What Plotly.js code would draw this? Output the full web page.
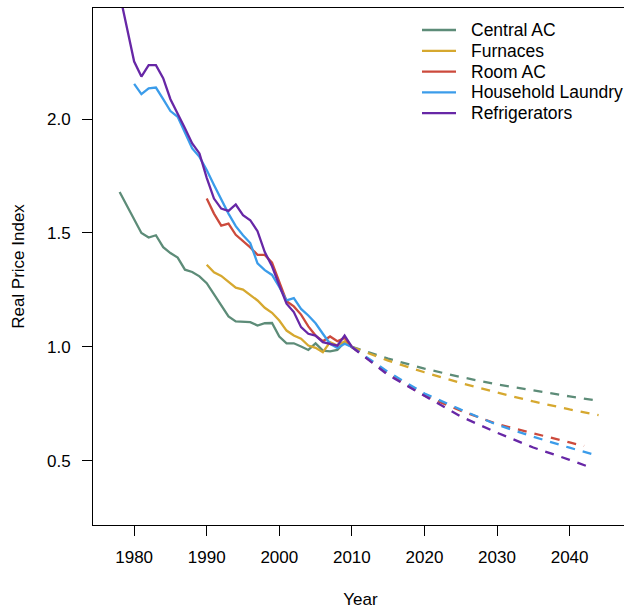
<!DOCTYPE html>
<html>
<head>
<meta charset="utf-8">
<script src="https://cdn.plot.ly/plotly-3.0.1.min.js"></script>
<style>
html,body{margin:0;padding:0;overflow:hidden;background:#fff;}
#chart{width:628px;height:609px;}
</style>
</head>
<body>
<div id="chart"></div>
<script>
// ---- Historical data (solid lines) ----
const centralYears = [1978,1979,1980,1981,1982,1983,1984,1985,1986,1987,1988,1989,1990,1991,1992,1993,1994,1995,1996,1997,1998,1999,2000,2001,2002,2003,2004,2005,2006,2007,2008,2009,2010];
const centralVals  = [1.680,1.622,1.559,1.500,1.480,1.490,1.438,1.412,1.392,1.339,1.329,1.310,1.280,1.230,1.178,1.134,1.112,1.112,1.109,1.094,1.104,1.105,1.046,1.016,1.016,1.002,0.987,1.016,0.984,0.981,0.987,1.021,1.000];

const furnaceYears = [1990,1991,1992,1993,1994,1995,1996,1997,1998,1999,2000,2001,2002,2003,2004,2005,2006,2007,2008,2009,2010];
const furnaceVals  = [1.361,1.328,1.312,1.287,1.260,1.252,1.228,1.204,1.172,1.150,1.116,1.072,1.050,1.036,1.006,0.996,0.977,1.021,1.006,1.025,1.000];

const roomYears = [1990,1991,1992,1993,1994,1995,1996,1997,1998,1999,2000,2001,2002,2003,2004,2005,2006,2007,2008,2009,2010];
const roomVals  = [1.651,1.585,1.532,1.541,1.492,1.466,1.437,1.404,1.404,1.370,1.284,1.201,1.178,1.142,1.090,1.050,1.025,1.046,1.025,1.040,1.000];

const laundryYears = [1980,1981,1982,1983,1984,1985,1986,1987,1988,1989,1990,1991,1992,1993,1994,1995,1996,1997,1998,1999,2000,2001,2002,2003,2004,2005,2006,2007,2008,2009,2010];
const laundryVals  = [2.154,2.109,2.135,2.138,2.087,2.035,2.010,1.944,1.871,1.834,1.776,1.710,1.644,1.585,1.530,1.490,1.456,1.367,1.337,1.316,1.263,1.204,1.214,1.167,1.138,1.104,1.058,1.014,0.996,1.014,1.000];

const fridgeYears = [1978,1979,1980,1981,1982,1983,1984,1985,1986,1987,1988,1989,1990,1991,1992,1993,1994,1995,1996,1997,1998,1999,2000,2001,2002,2003,2004,2005,2006,2007,2008,2009,2010];
const fridgeVals  = [2.550,2.399,2.252,2.186,2.236,2.236,2.179,2.087,2.025,1.959,1.893,1.849,1.742,1.651,1.607,1.597,1.625,1.578,1.556,1.508,1.416,1.354,1.270,1.190,1.153,1.087,1.058,1.050,1.021,1.014,1.006,1.050,1.000];

// ---- Projections (dashed lines) ----
const projYears     = [2010,2015,2020,2025,2030,2035,2040,2044];
const centralProj   = [1.000,0.949,0.905,0.868,0.836,0.809,0.783,0.764];
const furnaceProj   = [1.000,0.940,0.889,0.842,0.800,0.761,0.726,0.701];
const laundryProj   = [1.000,0.890,0.796,0.725,0.659,0.606,0.558,0.522];
const roomProjYears = [2010,2015,2020,2025,2030,2035,2040,2042];
const roomProj      = [1.000,0.882,0.787,0.720,0.662,0.620,0.581,0.566];
const fridgeProjYears = [2010,2015,2020,2025,2030,2035,2040,2043];
const fridgeProj    = [1.000,0.877,0.786,0.695,0.624,0.559,0.505,0.470];

const seriesNames = ["Central AC","Furnaces","Room AC","Household Laundry","Refrigerators"];
const colors = ["#5D8C78","#D6A82F","#CC4A3C","#3B9CEA","#6727A6"];

const hist = [
  [centralYears, centralVals],
  [furnaceYears, furnaceVals],
  [roomYears, roomVals],
  [laundryYears, laundryVals],
  [fridgeYears, fridgeVals]
];
const proj = [
  [projYears, centralProj],
  [projYears, furnaceProj],
  [roomProjYears, roomProj],
  [projYears, laundryProj],
  [fridgeProjYears, fridgeProj]
];

const traces = [];
hist.forEach((h, i) => {
  traces.push({
    x: h[0], y: h[1], type: "scatter", mode: "lines",
    name: seriesNames[i], showlegend: false,
    line: {color: colors[i], width: 2.3},
    hoverinfo: "skip"
  });
});
proj.forEach((p, i) => {
  traces.push({
    x: p[0], y: p[1], type: "scatter", mode: "lines",
    name: seriesNames[i] + " (projection)",
    showlegend: false,
    line: {color: colors[i], width: 2.3, dash: "9px,8px"},
    hoverinfo: "skip"
  });
});

const font = {family: "Liberation Sans, Arial, sans-serif", size: 17, color: "#000"};

// ---- Legend drawn as shapes + annotations (R-style legend box without border) ----
const plotL = 93, plotW = 628 - 93, plotT = 8, plotH = 517;
const px2x = px => (px - plotL) / plotW;
const py2y = py => (plotT + plotH - py) / plotH;
const legLineX0 = 422, legLineX1 = 456, legTextX = 469, legRow0 = 30, legRowGap = 20.8;
const shapes = [], annotations = [];
seriesNames.forEach((nm, i) => {
  const py = legRow0 + i * legRowGap;
  shapes.push({
    type: "line", xref: "paper", yref: "paper",
    x0: px2x(legLineX0), x1: px2x(legLineX1), y0: py2y(py), y1: py2y(py),
    line: {color: colors[i], width: 2.3}
  });
  annotations.push({
    xref: "paper", yref: "paper", x: px2x(legTextX), y: py2y(py),
    xanchor: "left", yanchor: "middle", showarrow: false,
    text: nm, font: {family: font.family, size: 17.5, color: "#000"}
  });
});

const layout = {
  width: 628, height: 609,
  margin: {l: 93, r: 0, t: 8, b: 84},
  paper_bgcolor: "#fff", plot_bgcolor: "#fff",
  font: font,
  showlegend: false,
  shapes: shapes,
  annotations: annotations,
  xaxis: {
    range: [1974.33, 2048.05],
    tickvals: [1980,1990,2000,2010,2020,2030,2040],
    ticktext: ["1980","1990","2000","2010","2020","2030","2040"],
    ticks: "outside", ticklen: 10, tickwidth: 1, tickcolor: "#000",
    showline: true, linecolor: "#000", linewidth: 1, mirror: true,
    showgrid: false, zeroline: false,
    ticklabelstandoff: 7,
    title: {text: "Year", font: font, standoff: 27}
  },
  yaxis: {
    range: [0.219, 2.487],
    tickvals: [0.5, 1.0, 1.5, 2.0],
    ticktext: ["0.5","1.0","1.5","2.0"],
    ticks: "outside", ticklen: 10, tickwidth: 1, tickcolor: "#000",
    showline: true, linecolor: "#000", linewidth: 1, mirror: true,
    showgrid: false, zeroline: false,
    ticklabelstandoff: 8,
    title: {text: "Real Price Index", font: font, standoff: 18}
  }
};

Plotly.newPlot("chart", traces, layout, {displayModeBar: false, staticPlot: true});
</script>
</body>
</html>
